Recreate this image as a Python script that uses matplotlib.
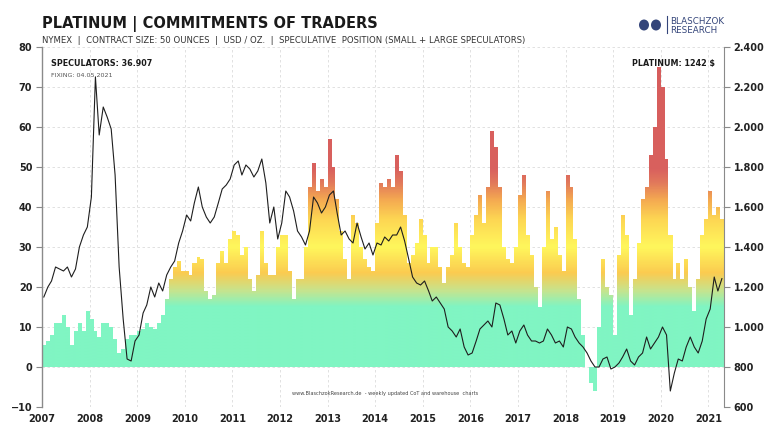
import numpy as np
import pandas as pd
import matplotlib
matplotlib.use('Agg')
import matplotlib.pyplot as plt
import matplotlib.dates as mdates
from matplotlib.colors import LinearSegmentedColormap
from matplotlib.path import Path
from matplotlib.patches import PathPatch, Ellipse
from matplotlib.lines import Line2D

plt.rcParams['font.family'] = ['Liberation Sans Narrow', 'DejaVu Sans']

# monthly values, Jan 2007 - Apr 2021
months = pd.date_range('2007-01-01', '2021-04-01', freq='MS')

# speculative net position (thousand contracts)
speculators = [
    5.5, 6.5, 8, 11, 11, 13, 10, 5.5, 9, 11, 9, 14,          # 2007
    12, 9, 7.5, 11, 11, 10, 7, 3.5, 4.5, 7, 8, 8,            # 2008
    9, 9.5, 11, 10, 9.5, 11, 13, 17, 22, 25, 26.5, 24,       # 2009
    24, 23, 26, 27.5, 27, 19, 17, 18, 26, 29, 26, 32,        # 2010
    34, 33, 28, 30, 22, 19, 23, 34, 26, 23, 23, 30,          # 2011
    33, 33, 24, 17, 22, 22, 30, 45, 51, 44, 47, 45,          # 2012
    57, 50, 42, 34, 27, 22, 38, 36, 30, 27, 25, 24,          # 2013
    36, 46, 45, 47, 45, 53, 49, 38, 26, 28, 31, 37,          # 2014
    33, 26, 30, 30, 25, 21, 25, 28, 36, 30, 26, 25,          # 2015
    33, 38, 43, 36, 45, 59, 55, 45, 30, 27, 26, 30,          # 2016
    43, 48, 33, 28, 20, 15, 30, 44, 32, 35, 28, 24,          # 2017
    48, 45, 32, 17, 8, 0, -4, -6, 10, 27, 20, 18,            # 2018
    8, 28, 38, 33, 13, 22, 31, 42, 45, 53, 60, 75,           # 2019
    70, 52, 33, 22, 26, 22, 27, 20, 14, 22, 33, 37,          # 2020
    44, 38, 40, 37,                                          # 2021
]

# platinum price (USD / oz)
platinum = [
    1150, 1200, 1230, 1300, 1290, 1280, 1300, 1250, 1290, 1400, 1460, 1500,
    1650, 2250, 1960, 2100, 2050, 1990, 1760, 1300, 1040, 840, 830, 930,
    960, 1070, 1110, 1200, 1150, 1220, 1180, 1260, 1300, 1330, 1420, 1480,
    1560, 1530, 1620, 1700, 1600, 1550, 1520, 1550, 1620, 1690, 1710, 1740,
    1810, 1830, 1760, 1810, 1790, 1750, 1780, 1840, 1720, 1520, 1600, 1440,
    1520, 1680, 1650, 1580, 1480, 1450, 1410, 1480, 1650, 1620, 1570, 1600,
    1660, 1680, 1570, 1460, 1480, 1440, 1420, 1520, 1450, 1390, 1420, 1360,
    1420, 1410, 1450, 1430, 1460, 1460, 1500, 1430, 1340, 1250, 1220, 1210,
    1230, 1180, 1130, 1150, 1120, 1090, 1000, 980, 950, 990, 900, 860,
    870, 930, 990, 1010, 1030, 1000, 1120, 1110, 1040, 960, 980, 920,
    980, 1010, 960, 930, 930, 920, 930, 990, 960, 920, 930, 900,
    1000, 990, 950, 920, 900, 870, 830, 800, 800, 840, 850, 790,
    800, 820, 850, 890, 830, 810, 850, 870, 950, 890, 920, 950,
    1000, 960, 680, 770, 840, 830, 900, 950, 900, 870, 930, 1040,
    1090, 1250, 1180, 1242,
]

years = list(range(2007, 2022))

fig = plt.figure(figsize=(7.68, 4.32), dpi=100)
ax = fig.add_axes([42 / 768, 25 / 432, 682 / 768, 360 / 432])

x = mdates.date2num(months)
x_end = mdates.date2num(pd.Timestamp('2021-05-01'))
widths = np.diff(np.append(x, x_end))

# bars coloured by height with a vertical gradient
bars = ax.bar(x, speculators, width=widths, align='edge', color='none',
              edgecolor='none', linewidth=0)
paths = [b.get_path().transformed(b.get_patch_transform()) for b in bars]
clip = PathPatch(Path.make_compound_path(*paths), transform=ax.transData,
                 facecolor='none', edgecolor='none')
ax.add_patch(clip)

ymin, ymax = -10, 80
stops = [(-10, '#80f5c3'), (15, '#80f5c3'), (19, '#c6e48e'), (23.5, '#fbcb50'),
         (30, '#fff75c'), (37, '#fdd653'), (42, '#f4a851'), (46, '#e27a5b'),
         (49.5, '#d9615e'), (80, '#d65c5c')]
cmap = LinearSegmentedColormap.from_list(
    'cot', [((v - ymin) / (ymax - ymin), c) for v, c in stops])
grad = np.linspace(ymin, ymax, 600).reshape(-1, 1)
im = ax.imshow(grad, cmap=cmap, vmin=ymin, vmax=ymax, origin='lower',
               extent=[x[0], x_end, ymin, ymax], aspect='auto',
               interpolation='bilinear', zorder=2)
im.set_clip_path(clip)

ax.set_xlim(x[0], x_end)
ax.set_ylim(ymin, ymax)
ax.set_yticks(range(-10, 81, 10))
ax.set_xticks([mdates.date2num(pd.Timestamp(f'{y}-01-01')) for y in years])
ax.set_xticklabels([str(y) for y in years])
ax.grid(color='#dcdcdc', linestyle=(0, (3, 3)), linewidth=0.6)
ax.set_axisbelow(True)
for s in ['top', 'right', 'bottom']:
    ax.spines[s].set_visible(False)
ax.spines['left'].set_color('#8a8a8a')
ax.spines['left'].set_linewidth(1.0)
ax.tick_params(axis='y', direction='out', length=4, width=0.8, color='#8a8a8a',
               labelsize=7, pad=3)
ax.tick_params(axis='x', length=0, labelsize=7, pad=5)
for lab in ax.get_yticklabels() + ax.get_xticklabels():
    lab.set_fontweight('bold')
    lab.set_color('#222222')

# price line on right axis
ax2 = ax.twinx()
ax2.plot(x + 14, platinum, color='#1e1e1e', linewidth=0.8)
ax2.set_ylim(600, 2400)
ax2.set_yticks(range(600, 2401, 200))
ax2.set_yticklabels([f'{v:,}'.replace(',', '.') for v in range(600, 2401, 200)])
for s in ['top', 'left', 'bottom']:
    ax2.spines[s].set_visible(False)
ax2.spines['right'].set_color('#8a8a8a')
ax2.tick_params(axis='y', direction='out', length=4, width=0.8, color='#8a8a8a',
                labelsize=7, pad=3)
for lab in ax2.get_yticklabels():
    lab.set_fontweight('bold')
    lab.set_color('#222222')

# header
fig.text(42 / 768, 1 - 28 / 432, 'PLATINUM | COMMITMENTS OF TRADERS',
         fontsize=10.5, fontweight='bold', color='#1a1a1a', va='baseline')
fig.text(42 / 768, 1 - 43 / 432,
         'NYMEX  |  CONTRACT SIZE: 50 OUNCES  |  USD / OZ.  |  SPECULATIVE  POSITION (SMALL + LARGE SPECULATORS)',
         fontsize=6.1, color='#333333', va='baseline')

# labels inside plot
fig.text(51 / 768, 1 - 66 / 432, 'SPECULATORS: 36.907', fontsize=5.8,
         fontweight='bold', color='#1a1a1a', va='baseline')
fig.text(51 / 768, 1 - 77 / 432, 'FIXING: 04.05.2021', fontsize=4.6,
         color='#555555', va='baseline')
fig.text(715 / 768, 1 - 66 / 432, 'PLATINUM: 1242 $', fontsize=5.8,
         fontweight='bold', color='#1a1a1a', va='baseline', ha='right')
fig.text(385 / 768, 1 - 395 / 432,
         'www.BlaschzokResearch.de  - weekly updated CoT and warehouse  charts',
         fontsize=3.6, color='#444444', va='baseline', ha='center')

# logo
logo = '#34457a'
for cx in (644, 656):
    fig.patches.append(Ellipse((cx / 768, 1 - 25 / 432), 10 / 768, 11 / 432,
                               transform=fig.transFigure, facecolor=logo,
                               edgecolor='none'))
fig.lines.append(Line2D([667 / 768, 667 / 768], [1 - 16 / 432, 1 - 33 / 432],
                        transform=fig.transFigure, color=logo, linewidth=0.8))
fig.text(670 / 768, 1 - 24 / 432, 'BLASCHZOK', fontsize=6.3, color=logo,
         va='baseline')
fig.text(670 / 768, 1 - 33 / 432, 'RESEARCH', fontsize=6.3, color=logo,
         va='baseline')

fig.savefig('out.png', dpi=100)
